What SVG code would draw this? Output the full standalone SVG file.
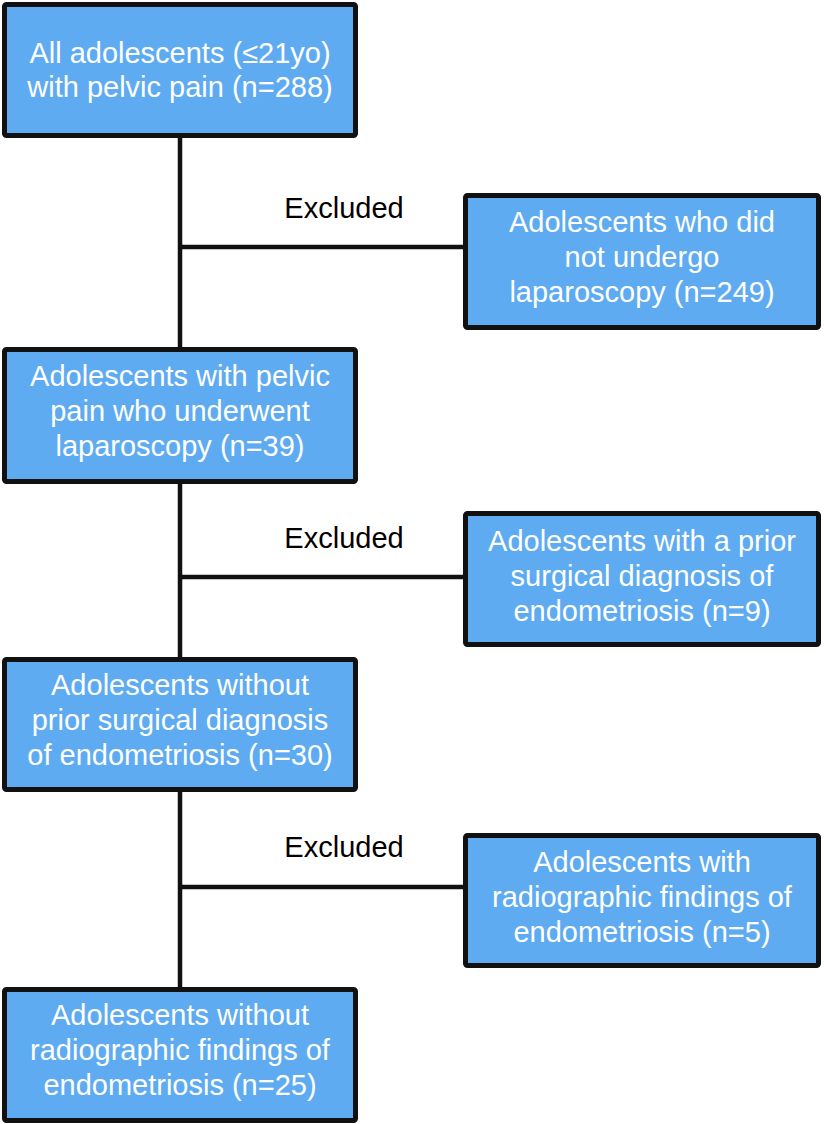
<svg xmlns="http://www.w3.org/2000/svg" width="824" height="1124" viewBox="0 0 824 1124">
<style>
.box{fill:#5eabf2;stroke:#111;stroke-width:5;}
.t{font-family:"Liberation Sans",Arial,sans-serif;font-size:29px;fill:#fff;text-anchor:middle;}
.ex{font-family:"Liberation Sans",Arial,sans-serif;font-size:29px;fill:#000;text-anchor:middle;}
.c{stroke:#111;stroke-width:4.5;fill:none;}
</style>
<rect width="824" height="1124" fill="#fff"/>
<g id="connectors">
<line class="c" x1="180" y1="137" x2="180" y2="990"/>
<line class="c" x1="180" y1="247" x2="466" y2="247"/>
<line class="c" x1="180" y1="577" x2="466" y2="577"/>
<line class="c" x1="180" y1="887" x2="466" y2="887"/>
<text class="ex" x="344" y="218">Excluded</text>
<text class="ex" x="344" y="548">Excluded</text>
<text class="ex" x="344" y="857">Excluded</text>
</g>
<g id="n1">
<rect class="box" x="4.5" y="4.5" width="351" height="131" rx="2"/>
<text class="t" x="180" y="63">All adolescents (≤21yo)</text>
<text class="t" x="180" y="97">with pelvic pain (n=288)</text>
</g>
<g id="n2">
<rect class="box" x="465.5" y="195.5" width="353" height="132" rx="2"/>
<text class="t" x="642" y="232">Adolescents who did</text>
<text class="t" x="642" y="267">not undergo</text>
<text class="t" x="642" y="302">laparoscopy (n=249)</text>
</g>
<g id="n3">
<rect class="box" x="4.5" y="349.5" width="351" height="132" rx="2"/>
<text class="t" x="180" y="386">Adolescents with pelvic</text>
<text class="t" x="180" y="421">pain who underwent</text>
<text class="t" x="180" y="456">laparoscopy (n=39)</text>
</g>
<g id="n4">
<rect class="box" x="465.5" y="513.5" width="353" height="131" rx="2"/>
<text class="t" x="642" y="551">Adolescents with a prior</text>
<text class="t" x="642" y="586">surgical diagnosis of</text>
<text class="t" x="642" y="621">endometriosis (n=9)</text>
</g>
<g id="n5">
<rect class="box" x="4.5" y="659.5" width="351" height="130" rx="2"/>
<text class="t" x="180" y="695">Adolescents without</text>
<text class="t" x="180" y="730">prior surgical diagnosis</text>
<text class="t" x="180" y="765">of endometriosis (n=30)</text>
</g>
<g id="n6">
<rect class="box" x="465.5" y="835.5" width="353" height="130" rx="2"/>
<text class="t" x="642" y="872">Adolescents with</text>
<text class="t" x="642" y="907">radiographic findings of</text>
<text class="t" x="642" y="942">endometriosis (n=5)</text>
</g>
<g id="n7">
<rect class="box" x="4.5" y="989.5" width="351" height="131" rx="2"/>
<text class="t" x="180" y="1025">Adolescents without</text>
<text class="t" x="180" y="1060">radiographic findings of</text>
<text class="t" x="180" y="1095">endometriosis (n=25)</text>
</g>
</svg>
